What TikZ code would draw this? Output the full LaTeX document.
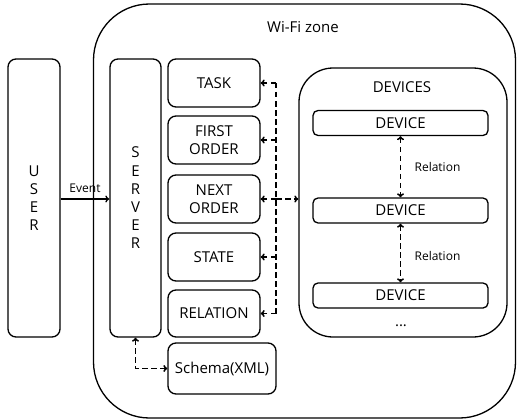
\documentclass[tikz,border=0pt]{standalone}
\usepackage{fontspec}
\setmainfont{Open Sans}
\usetikzlibrary{arrows.meta}

\begin{document}
\begin{tikzpicture}[x=1pt, y=-1pt, line width=1.3pt, >={To[length=4pt,width=7pt]},
    box/.style={rectangle, draw, rounded corners=8pt, align=center, inner sep=0pt, font=\fontsize{15}{17.5}\selectfont},
    colbox/.style={box, minimum width=92pt, minimum height=48pt},
    devbox/.style={box, rounded corners=5pt, minimum width=175pt, minimum height=25pt},
    title/.style={inner sep=0pt, font=\fontsize{15}{17.5}\selectfont},
    link/.style={line width=1.6pt, dash pattern=on 5.5pt off 3.5pt},
    small/.style={font=\fontsize{12}{13}\selectfont}]

    \useasboundingbox (0,0) rectangle (517,420);

    \node[box, rounded corners=56pt, minimum width=422pt, minimum height=414pt] (zone) at (304.5,211) {};
    \node[title] (zonelabel) at (303,27) {Wi-Fi zone};

    \node[box, minimum width=52pt, minimum height=278pt, font=\fontsize{15}{18.2}\selectfont] (user) at (34,198) {U\\S\\E\\R};
    \node[box, minimum width=51pt, minimum height=278pt, font=\fontsize{15}{18.2}\selectfont] (server) at (135.5,198) {S\\E\\R\\V\\E\\R};

    \node[colbox] (task) at (214,83) {TASK};
    \node[colbox] (first) at (214,140) {FIRST\\ORDER};
    \node[colbox] (next) at (214,199) {NEXT\\ORDER};
    \node[colbox] (state) at (214,257) {STATE};
    \node[colbox, minimum height=47pt] (relation) at (214,313.5) {RELATION};
    \node[box, minimum width=108pt, minimum height=51pt] (schema) at (222,368.5) {Schema(XML)};

    \node[box, rounded corners=34pt, minimum width=208pt, minimum height=269pt] (devices) at (403,202.5) {};
    \node[title] (deviceslabel) at (402,87) {DEVICES};
    \node[devbox] (dev1) at (400.5,123) {DEVICE};
    \node[devbox] (dev2) at (400.5,210.5) {DEVICE};
    \node[devbox] (dev3) at (400.5,295.5) {DEVICE};
    \node[title] (more) at (401,326) {...};

    \coordinate (bus) at (276,0);

    \draw[->] (user.east |- 0,199) -- (server.west |- 0,199) node[midway, above, small, yshift=2pt] {Event};

    \draw[link] (task.east -| bus) -- (relation.east -| bus);
    \draw[link, ->] (task.east -| bus) -- (task.east);
    \draw[link, ->] (first.east -| bus) -- (first.east);
    \draw[link, ->] (next.east -| bus) -- (next.east);
    \draw[link, ->] (state.east -| bus) -- (state.east);
    \draw[link, ->] (relation.east -| bus) -- (relation.east);
    \draw[link, ->] (next.east -| bus) -- (devices.west |- next.east);

    \draw[link, <->] (dev1.south) -- (dev2.north) node[midway, right, small, xshift=10pt] {Relation};
    \draw[link, <->] (dev2.south) -- (dev3.north) node[midway, right, small, xshift=10pt, yshift=-3pt] {Relation};

    \draw[link, <->] (server.south) |- (schema.west);
\end{tikzpicture}
\end{document}
